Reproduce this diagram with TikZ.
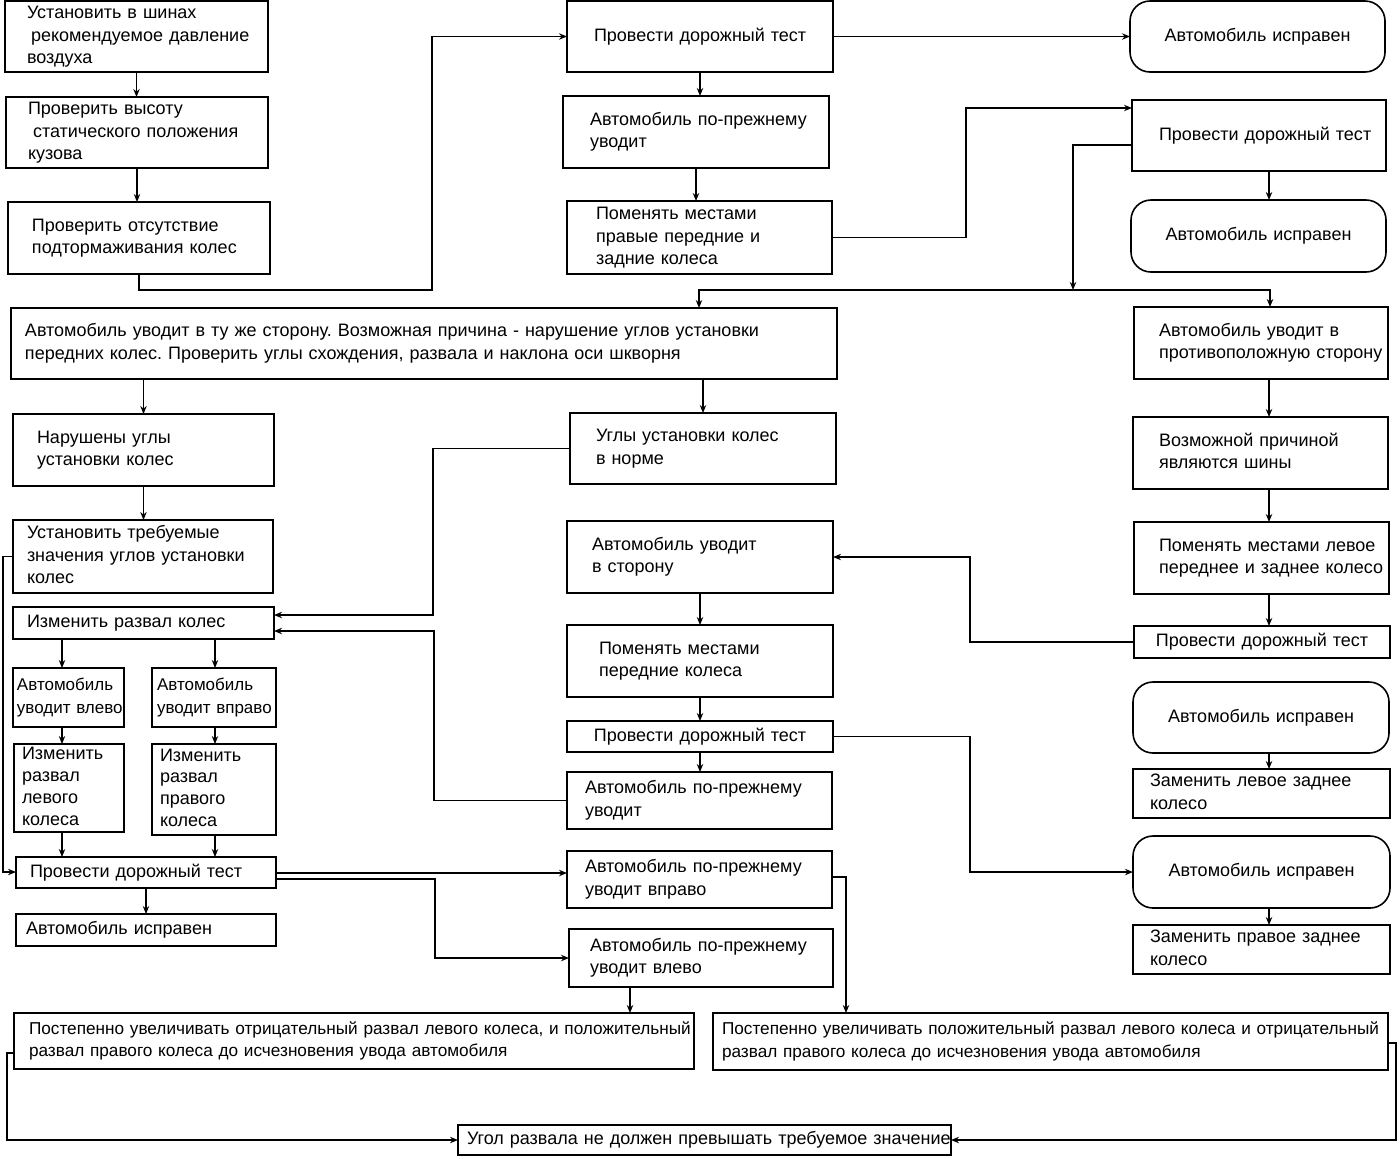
\documentclass[tikz,border=0pt]{standalone}
\usepackage{fontspec}
\setmainfont{Liberation Sans}
\usetikzlibrary{arrows.meta}
\frenchspacing
\newcommand\fs{\fontsize{9}{11.25}\selectfont}
\newcommand\fss{\fontsize{8.5}{11.25}\selectfont}
\newcommand\fsb{\fontsize{8.6}{11.25}\selectfont}
\newcommand\fsd{\fontsize{9}{10.9}\selectfont}
\tikzset{
 box/.style={draw, line width=0.8pt, align=left, inner ysep=0pt, outer sep=0pt, font=\fs},
 rbox/.style={rounded corners=10pt},
 arr/.style={-{Stealth[length=4pt,width=3.2pt]}, line width=0.7pt},
 arrb/.style={{Stealth[length=4pt,width=3.2pt]}-{Stealth[length=4pt,width=3.2pt]}, line width=0.7pt},
}
% left-aligned box: [opts]{name}{x1}{y1}{x2}{y2}{pad px}{text}
\newcommand\bx[8][]{%
 \pgfmathsetmacro\bw{(#5-#3)*0.5}%
 \pgfmathsetmacro\bh{(#6-#4)*0.5}%
 \pgfmathsetmacro\tw{\bw-#7}%
 \pgfmathsetmacro\ps{#7*0.5}%
 \node[box,#1,minimum width=\bw pt,minimum height=\bh pt,text width=\tw pt,inner xsep=\ps pt] (#2) at ({(#3+#5)/2},{(#4+#6)/2}) {\begin{tabular}{@{}l@{}}#8\end{tabular}};}
% centered box
\newcommand\bxc[7][]{%
 \pgfmathsetmacro\bw{(#5-#3)*0.5}%
 \pgfmathsetmacro\bh{(#6-#4)*0.5}%
 \node[box,align=center,#1,minimum width=\bw pt,minimum height=\bh pt,text width=\bw pt,inner xsep=0pt] (#2) at ({(#3+#5)/2},{(#4+#6)/2}) {\begin{tabular}{@{}c@{}}#7\end{tabular}};}
\begin{document}
\begin{tikzpicture}[x=0.5pt,y=-0.5pt]
\useasboundingbox (0,0) rectangle (1400,1158);
\fill[white] (0,0) rectangle (1400,1158);

\bx{b1}{5}{1}{268}{72}{22}{Установить в шинах\\\hspace*{2pt}рекомендуемое давление\\воздуха}
\bx{b2}{6}{97}{268}{168}{22}{Проверить высоту\\\hspace*{2.5pt}статического положения\\кузова}
\bx{b3}{8}{202}{270}{274}{24}{Проверить отсутствие\\подтормаживания колес}
\bx{b4}{567}{1}{833}{72}{27}{Провести дорожный тест}
\bx{b5}{563}{96}{829}{168}{27}{Автомобиль по-прежнему\\уводит}
\bx{b6}{567}{201}{832}{274}{29}{Поменять местами\\правые передние и\\задние колеса}
\bxc[rbox]{r1}{1130}{1}{1385}{72}{Автомобиль исправен}
\bx{r2}{1132}{100}{1386}{171}{27}{Провести дорожный тест}
\bxc[rbox]{r3}{1131}{200}{1386}{272}{Автомобиль исправен}
\bx{b7}{11}{308}{837}{379}{14}{Автомобиль уводит в ту же сторону. Возможная причина - нарушение углов установки\\передних колес. Проверить углы схождения, развала и наклона оси шкворня}
\bx{b8}{1134}{307}{1388}{379}{25}{Автомобиль уводит в\\противоположную сторону}
\bx{b9}{13}{414}{274}{486}{24}{Нарушены углы\\установки колес}
\bx{b10}{570}{413}{836}{484}{26}{Углы установки колес\\в норме}
\bx{b11}{13}{520}{273}{593}{14}{Установить требуемые\\значения углов установки\\колес}
\bx{b12}{1133}{417}{1388}{489}{26}{Возможной причиной\\являются шины}
\bx{b13}{1134}{522}{1389}{594}{25}{Поменять местами левое\\переднее и заднее колесо}
\bxc{b14}{1134}{626}{1390}{658}{Провести дорожный тест}
\bx{b15}{567}{521}{833}{593}{25}{Автомобиль уводит\\в сторону}
\bx{b16}{567}{625}{833}{697}{32}{Поменять местами\\передние колеса}
\bxc{b17}{567}{721}{833}{752}{Провести дорожный тест}
\bx{b18}{567}{772}{832}{829}{18}{Автомобиль по-прежнему\\уводит}
\bx{b19}{13}{607}{274}{639}{14}{Изменить развал колес}
\bx[font=\fss]{b20}{13}{668}{124}{727}{4}{Автомобиль\\уводит влево}
\bx[font=\fss]{b21}{152}{668}{276}{727}{5}{Автомобиль\\уводит вправо}
\bx[font=\fsd]{b22}{14}{744}{124}{832}{8}{Изменить\\развал\\левого\\колеса}
\bx[font=\fsd]{b23}{152}{744}{276}{835}{8}{Изменить\\развал\\правого\\колеса}
\bx{b24}{16}{857}{276}{888}{14}{Провести дорожный тест}
\bx{b25}{16}{914}{276}{946}{10}{Автомобиль исправен}
\bx{b26}{567}{851}{832}{908}{18}{Автомобиль по-прежнему\\уводит вправо}
\bx{b27}{569}{929}{833}{987}{21}{Автомобиль по-прежнему\\уводит влево}
\bx[font=\fsb]{b28}{14}{1013}{694}{1069}{15}{Постепенно увеличивать отрицательный развал левого колеса, и положительный\\развал правого колеса до исчезновения увода автомобиля}
\bx[font=\fsb]{b29}{713}{1013}{1388}{1070}{9}{Постепенно увеличивать положительный развал левого колеса и отрицательный\\развал правого колеса до исчезновения увода автомобиля}
\bx{b30}{458}{1125}{951}{1155}{9}{Угол развала не должен превышать требуемое значение}
\bxc[rbox]{r4}{1133}{682}{1389}{753}{Автомобиль исправен}
\bx{b31}{1133}{769}{1390}{818}{17}{Заменить левое заднее\\колесо}
\bxc[rbox]{r5}{1133}{836}{1390}{908}{Автомобиль исправен}
\bx{b32}{1133}{925}{1390}{974}{17}{Заменить правое заднее\\колесо}

\coordinate (xR) at (1269,0);
\coordinate (xa) at (62,0);
\coordinate (xb) at (215,0);
\coordinate (xc) at (630,0);
\coordinate (c1) at (432,290);
\coordinate (c2) at (966,108);
\coordinate (j1a) at (1073,145);
\coordinate (j1) at (1073,290);
\coordinate (j2) at (699,290);
\coordinate (j3) at (1270,290);
\coordinate (c3) at (970,557);
\coordinate (c4) at (434,631);
\coordinate (c5) at (433,615);
\coordinate (c6) at (3,872);
\coordinate (y873) at (0,873);
\coordinate (c8) at (435,879);
\coordinate (c9) at (435,958);
\coordinate (c10) at (846,877);
\coordinate (c11) at (7,1053);
\coordinate (c13) at (1396,1043);
\coordinate (c14) at (970,872);

\draw[arr] (b1.south) -- (b1.south |- b2.north);
\draw[arr] (b2.south) -- (b2.south |- b3.north);
\draw[arr] (b3.south) |- (c1) |- (b4.west);
\draw[arr] (b4.south) -- (b4.south |- b5.north);
\draw[arr] (b5.south) -- (b5.south |- b6.north);
\draw[arr] (b4.east) -- (b4.east -| r1.west);
\draw[arr] (b6.east) -| (c2) -- (c2 -| r2.west);
\draw[arr] (r2.south -| xR) -- (r3.north -| xR);
\draw[arr] (r2.west |- j1a) -| (j1);
\draw[arrb] (b7.north -| j2) -- (j2) -- (j3) -- (b8.north -| j3);
\draw[arr] (b7.south -| b9.north) -- (b9.north);
\draw[arr] (b7.south -| b10.north) -- (b10.north);
\draw[arr] (b9.south) -- (b9.south |- b11.north);
\draw[arr] (b8.south -| xR) -- (b12.north -| xR);
\draw[arr] (b12.south -| xR) -- (b13.north -| xR);
\draw[arr] (b13.south -| xR) -- (b14.north -| xR);
\draw[arr] (b14.west) -| (c3) -- (c3 -| b15.east);
\draw[arr] (b15.south) -- (b15.south |- b16.north);
\draw[arr] (b16.south) -- (b16.south |- b17.north);
\draw[arr] (b17.south) -- (b17.south |- b18.north);
\draw[arr] (b18.west) -| (c4) -- (c4 -| b19.east);
\draw[arr] (b10.west) -| (c5) -- (c5 -| b19.east);
\draw[arr] (b11.west) -| (c6) -- (c6 -| b24.west);
\draw[arr] (b19.south -| xa) -- (b20.north -| xa);
\draw[arr] (b19.south -| xb) -- (b21.north -| xb);
\draw[arr] (b20.south -| xa) -- (b22.north -| xa);
\draw[arr] (b21.south -| xb) -- (b23.north -| xb);
\draw[arr] (b22.south -| xa) -- (b24.north -| xa);
\draw[arr] (b23.south -| xb) -- (b24.north -| xb);
\draw[arr] (b24.south) -- (b24.south |- b25.north);
\draw[arr] (b24.east |- y873) -- (b26.west |- y873);
\draw[arr] (b24.east |- c8) -| (c9) -- (c9 -| b27.west);
\draw[arr] (b27.south -| xc) -- (b28.north -| xc);
\draw[arr] (b26.east |- c10) -| (b29.north -| c10);
\draw[arr] (b28.west |- c11) -| (b30.west -| c11) -- (b30.west);
\draw[arr] (b29.east |- c13) -| (b30.east -| c13) -- (b30.east);
\draw[arr] (b17.east) -| (c14) -- (c14 -| r5.west);
\draw[arr] (r4.south -| xR) -- (b31.north -| xR);
\draw[arr] (r5.south -| xR) -- (b32.north -| xR);
\end{tikzpicture}
\end{document}
